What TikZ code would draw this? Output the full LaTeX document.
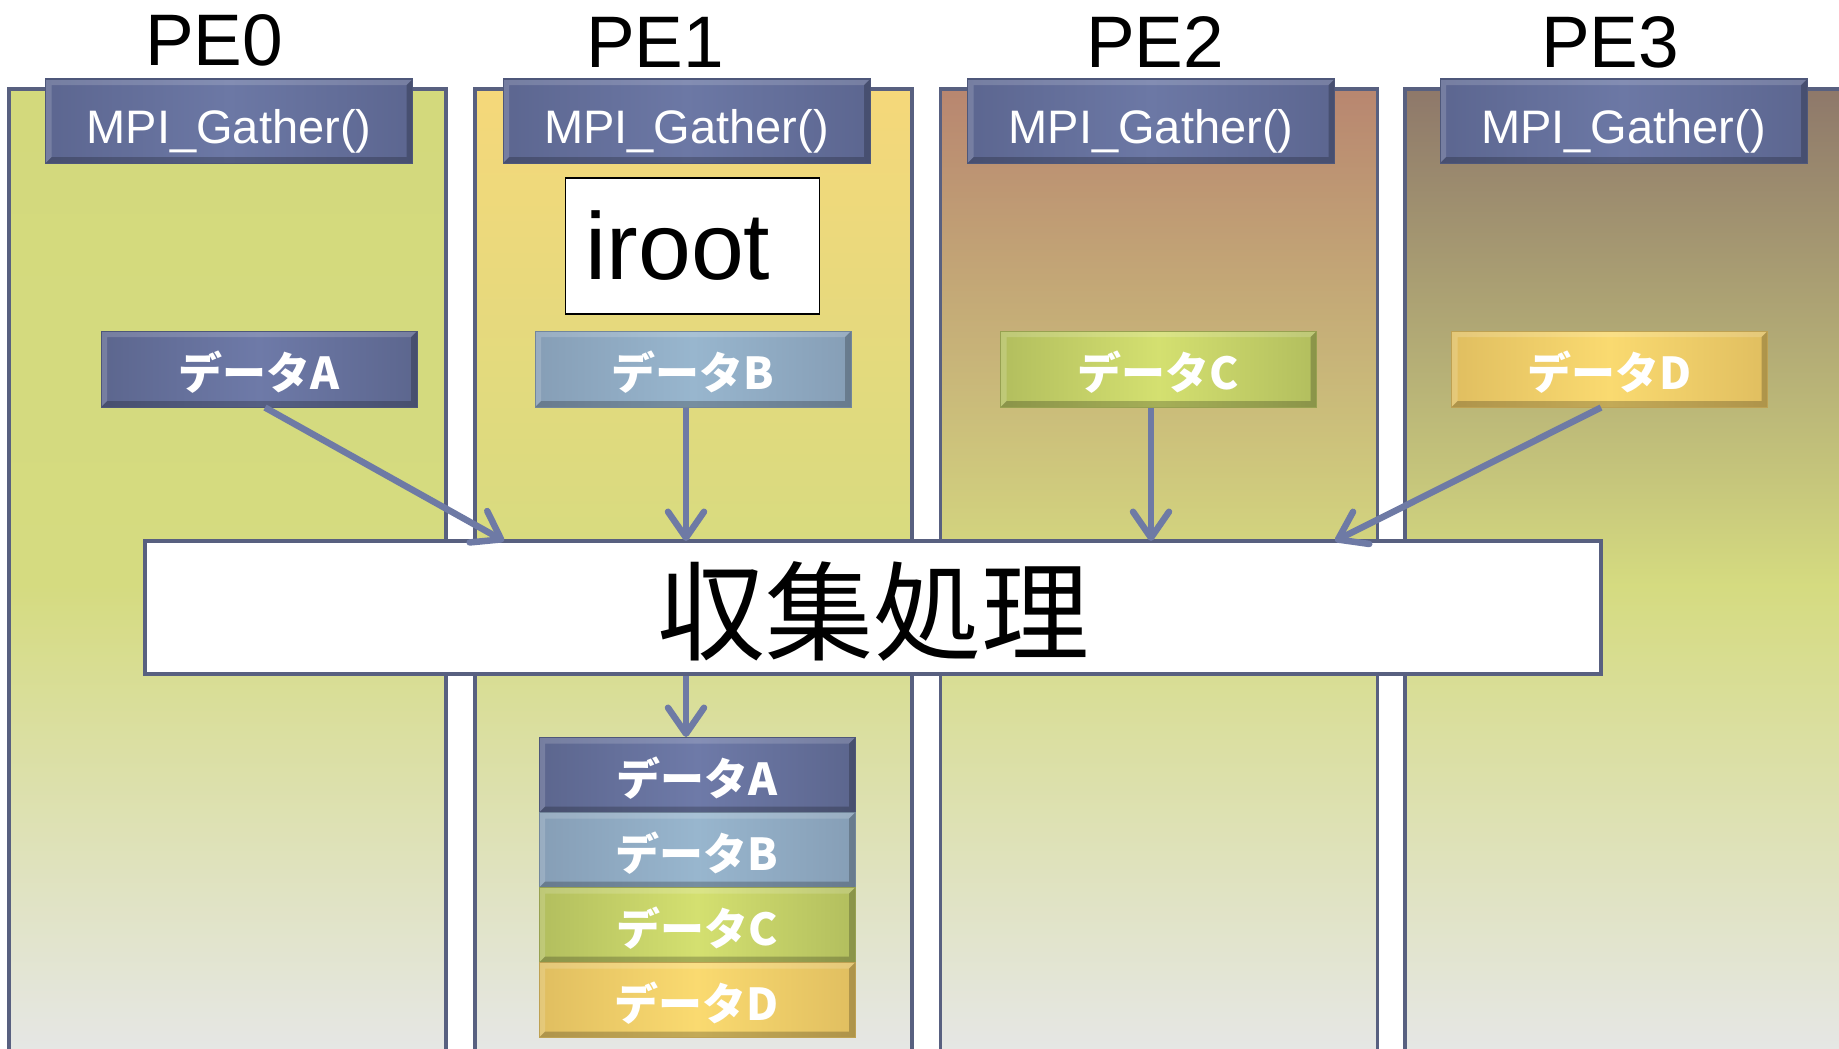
\documentclass[tikz,border=0pt]{standalone}
\usepackage{fontspec}
\setmainfont{Liberation Sans}
\newfontfamily\jp{Noto Sans CJK JP}
\usetikzlibrary{arrows.meta}

\definecolor{colline}{RGB}{88,96,128}
\definecolor{arrowc}{RGB}{110,122,165}
\definecolor{cmid}{RGB}{213,219,128}
\definecolor{cbot}{RGB}{230,231,231}
\definecolor{ctopA}{RGB}{211,217,124}
\definecolor{ctopB}{RGB}{245,216,122}
\definecolor{ctopC}{RGB}{184,134,112}
\definecolor{ctopD}{RGB}{142,120,106}
\definecolor{mpiL}{RGB}{92,102,144}
\definecolor{mpiM}{RGB}{108,120,165}
\definecolor{aL}{RGB}{92,102,142}
\definecolor{aM}{RGB}{110,122,168}
\definecolor{bL}{RGB}{134,158,182}
\definecolor{bM}{RGB}{152,182,206}
\definecolor{cL}{RGB}{178,190,94}
\definecolor{cM}{RGB}{212,224,112}
\definecolor{dL}{RGB}{224,190,96}
\definecolor{dM}{RGB}{250,218,112}

\tikzset{
  bevelfx/.style={path picture={
    \path (path picture bounding box.south west) coordinate (bsw)
          (path picture bounding box.north east) coordinate (bne)
          (path picture bounding box.south east) coordinate (bse)
          (path picture bounding box.north west) coordinate (bnw);
    \fill[black,opacity=.22] (bsw) -- (bse) -- (bne) -- ([shift={(-6pt,-6pt)}]bne)
          -- ([shift={(-6pt,6pt)}]bse) -- ([shift={(6pt,6pt)}]bsw) -- cycle;
    \fill[white,opacity=.16] (bsw) -- (bnw) -- (bne) -- ([shift={(-6pt,-6pt)}]bne)
          -- ([shift={(6pt,-6pt)}]bnw) -- ([shift={(6pt,6pt)}]bsw) -- cycle;
  }},
  colbox/.style={draw=colline, line width=3.5pt, minimum width=437pt,
    minimum height=971pt, inner sep=0pt},
  mpibox/.style={minimum width=367pt, minimum height=84pt, inner sep=0pt,
    text height=44pt, text depth=0pt,
    left color=mpiL, right color=mpiL, middle color=mpiM, bevelfx,
    draw=mpiL!85!black, line width=1pt,
    text=white, font=\fontsize{47pt}{50pt}\selectfont},
  databox/.style 2 args={minimum width=316pt, minimum height=76pt, inner sep=0pt,
    text height=40pt, text depth=0pt,
    left color=#1, right color=#1, middle color=#2, bevelfx,
    draw=#1!85!black, line width=1pt,
    text=white, font=\jp\bfseries\fontsize{44pt}{48pt}\selectfont},
  pelabel/.style={anchor=base, font=\fontsize{73pt}{80pt}\selectfont},
  flow/.style={draw=arrowc, line width=6.5pt,
    -{Straight Barb[length=26pt,width=36pt,round]}},
}

\begin{document}
\begin{tikzpicture}[x=1pt,y=-1pt]
\useasboundingbox (0,0) rectangle (1839,1049);
\fill[white] (0,0) rectangle (1839,1049);

\begin{scope}
\clip (0,0) rectangle (1839,1049);
\foreach \x/\tc [count=\i from 0] in {9/ctopA,475/ctopB,940.5/ctopC,1405/ctopD} {
  \shade[top color=\tc, bottom color=cmid] (\x,89) rectangle ++(437,497);
  \shade[top color=cmid, bottom color=cbot] (\x,585) rectangle ++(437,475);
  \node[colbox] (col\i) at (\x+218.5,574.5) {};
}
\end{scope}

% PE labels
\node[pelabel] (pe0) at (214,66) {PE0};
\node[pelabel] (pe1) at (655,67) {PE1};
\node[pelabel] (pe2) at (1155,67) {PE2};
\node[pelabel] (pe3) at (1610,67) {PE3};

% MPI_Gather boxes
\node[mpibox] (m0) at (229,121) {MPI\_Gather()};
\node[mpibox] (m1) at (686.5,121) {MPI\_Gather()};
\node[mpibox] (m2) at (1151,121) {MPI\_Gather()};
\node[mpibox] (m3) at (1623.5,121) {MPI\_Gather()};

% iroot
\node[draw=black, line width=1.5pt, fill=white, minimum height=136pt,
      text width=214pt, inner xsep=20pt, inner ysep=0pt, align=left,
      font=\fontsize{95pt}{100pt}\selectfont] (iroot) at (692.5,246) {iroot};

% data boxes
\node[databox={aL}{aM}] (dA) at (259,369) {データA};
\node[databox={bL}{bM}] (dB) at (693,369) {データB};
\node[databox={cL}{cM}] (dC) at (1158.5,369) {データC};
\node[databox={dL}{dM}] (dD) at (1609.5,369) {データD};

% gather box
\node[draw=colline, line width=3.5pt, fill=white, minimum width=1456pt,
      minimum height=133pt, inner sep=0pt, text height=89pt, text depth=0pt,
      font=\jp\fontsize{108pt}{112pt}\selectfont] (gather) at (873,607.5) {収集処理};

% arrows
\coordinate (tA) at (504,541);
\coordinate (tB) at (686,541);
\coordinate (tC) at (1151,541);
\coordinate (tD) at (1335,541);
\coordinate (sA) at (265,407);
\coordinate (sD) at (1601,407);
\draw[flow] (dA.south -| sA) -- (tA);
\draw[flow] (dB.south -| tB) -- (tB);
\draw[flow] (dC.south -| tC) -- (tC);
\draw[flow] (dD.south -| sD) -- (tD);

% stacked result
\node[databox={aL}{aM}, minimum height=75pt] (stA) at (697,775) {データA};
\node[databox={bL}{bM}, minimum height=75pt] (stB) at (697,850) {データB};
\node[databox={cL}{cM}, minimum height=75pt] (stC) at (697,925) {データC};
\node[databox={dL}{dM}, minimum height=75pt] (stD) at (697,1000) {データD};

\draw[flow] (gather.south -| tB) -- (stA.north -| tB);
\end{tikzpicture}
\end{document}
